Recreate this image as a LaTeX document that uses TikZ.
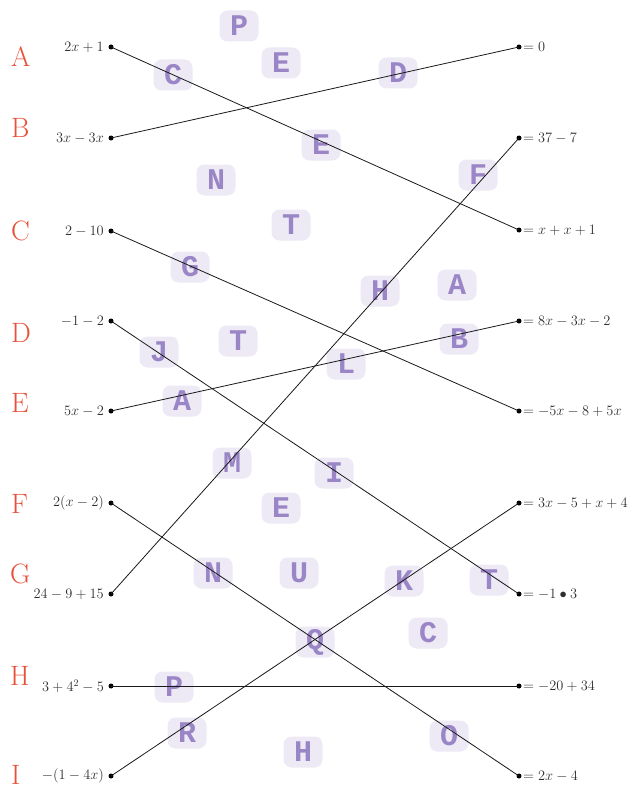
\documentclass[tikz,border=0pt]{standalone}
\usepackage{fontspec}
\newfontfamily\tilefont{Liberation Mono}[BoldFont={* Bold}]
\usetikzlibrary{positioning}
\definecolor{redlab}{HTML}{E8503A}
\definecolor{tilefill}{HTML}{EDE9F5}
\definecolor{tiletext}{HTML}{9A86C6}
\definecolor{labtext}{HTML}{2E2E2E}
\tikzset{
  redletter/.style={anchor=base west, text=redlab, inner sep=0pt, font=\fontsize{28}{28}\selectfont},
  tile/.style={fill=tilefill, rounded corners=8pt, minimum width=39pt, minimum height=31pt, inner sep=0pt, text=tiletext, font=\tilefont\bfseries\fontsize{30}{30}\selectfont},
  dotnode/.style={circle, fill=black, inner sep=0pt, minimum size=5pt},
  leftlab/.style={anchor=east, text=labtext, inner sep=0pt, font=\fontsize{14.5}{14.5}\selectfont},
  rightlab/.style={anchor=west, text=labtext, inner sep=0pt, font=\fontsize{14.5}{14.5}\selectfont},
  conn/.style={line width=0.8pt, draw=black!90}
}
\begin{document}
\begin{tikzpicture}[x=1pt,y=-1pt]
\useasboundingbox (0,0) rectangle (630,789);
% tiles
\node[tile] (t1) at (239,26) {P};
\node[tile] (t2) at (281,63) {E};
\node[tile] (t3) at (173,75) {C};
\node[tile] (t4) at (398,73) {D};
\node[tile] (t5) at (321,145) {E};
\node[tile] (t6) at (216,180) {N};
\node[tile] (t7) at (478,175) {F};
\node[tile] (t8) at (291,225) {T};
\node[tile] (t9) at (190,267) {G};
\node[tile] (t10) at (380,291) {H};
\node[tile] (t11) at (457,285) {A};
\node[tile] (t12) at (238,341) {T};
\node[tile] (t13) at (159,352) {J};
\node[tile] (t14) at (346,364) {L};
\node[tile] (t15) at (459,339) {B};
\node[tile] (t16) at (182,401) {A};
\node[tile] (t17) at (232,463) {M};
\node[tile] (t18) at (334,473) {I};
\node[tile] (t19) at (281,508) {E};
\node[tile] (t20) at (213,573) {N};
\node[tile] (t21) at (299,573) {U};
\node[tile] (t22) at (404,581) {K};
\node[tile] (t23) at (489,580) {T};
\node[tile] (t24) at (315,642) {Q};
\node[tile] (t25) at (428,633) {C};
\node[tile] (t26) at (174,687) {P};
\node[tile] (t27) at (187,733) {R};
\node[tile] (t28) at (303,752) {H};
\node[tile] (t29) at (449,736) {O};
% red letters
\node[redletter] (rA) at (11,67) {A};
\node[redletter] (rB) at (11,137) {B};
\node[redletter] (rC) at (11,240) {C};
\node[redletter] (rD) at (11,342) {D};
\node[redletter] (rE) at (11,412) {E};
\node[redletter] (rF) at (11,513) {F};
\node[redletter] (rG) at (10,583) {G};
\node[redletter] (rH) at (10,685) {H};
\node[redletter] (rI) at (11,784.5) {I};
% left dots
\node[dotnode] (L1) at (111,47) {};
\node[dotnode] (L2) at (111,138) {};
\node[dotnode] (L3) at (111,231) {};
\node[dotnode] (L4) at (111,321) {};
\node[dotnode] (L5) at (111,411) {};
\node[dotnode] (L6) at (111,503) {};
\node[dotnode] (L7) at (111,594) {};
\node[dotnode] (L8) at (111,686) {};
\node[dotnode] (L9) at (111,776) {};
% right dots
\node[dotnode] (R1) at (519,47) {};
\node[dotnode] (R2) at (519,138) {};
\node[dotnode] (R3) at (519,230) {};
\node[dotnode] (R4) at (519,321) {};
\node[dotnode] (R5) at (519,411) {};
\node[dotnode] (R6) at (519,503) {};
\node[dotnode] (R7) at (519,594) {};
\node[dotnode] (R8) at (519,686) {};
\node[dotnode] (R9) at (519,776) {};
% left labels
\node[leftlab] (l1) at (104,47) {$2x+1$};
\node[leftlab] (l2) at (104,138) {$3x-3x$};
\node[leftlab] (l3) at (104,231) {$2-10$};
\node[leftlab] (l4) at (104,321) {$-1-2$};
\node[leftlab] (l5) at (104,411) {$5x-2$};
\node[leftlab] (l6) at (104,503) {$2\bigl(x-2\bigr)$};
\node[leftlab] (l7) at (104,594) {$24-9+15$};
\node[leftlab] (l8) at (104,686) {$3+4^2-5$};
\node[leftlab] (l9) at (104,776) {$-\bigl(1-4x\bigr)$};
% right labels
\node[rightlab] (r1) at (523,47) {$=0$};
\node[rightlab] (r2) at (523,138) {$=37-7$};
\node[rightlab] (r3) at (523,230) {$=x+x+1$};
\node[rightlab] (r4) at (523,321) {$=8x-3x-2$};
\node[rightlab] (r5) at (523,411) {$=-5x-8+5x$};
\node[rightlab] (r6) at (523,503) {$=3x-5+x+4$};
\node[rightlab] (r7) at (523,594) {$=-1\bullet 3$};
\node[rightlab] (r8) at (523,686) {$=-20+34$};
\node[rightlab] (r9) at (523,776) {$=2x-4$};
% connectors
\draw[conn] (L1.center) -- (R3.center);
\draw[conn] (L2.center) -- (R1.center);
\draw[conn] (L3.center) -- (R5.center);
\draw[conn] (L4.center) -- (R7.center);
\draw[conn] (L5.center) -- (R4.center);
\draw[conn] (L6.center) -- (R9.center);
\draw[conn] (L7.center) -- (R2.center);
\draw[conn] (L8.center) -- (R8.center);
\draw[conn] (L9.center) -- (R6.center);
\end{tikzpicture}
\end{document}
